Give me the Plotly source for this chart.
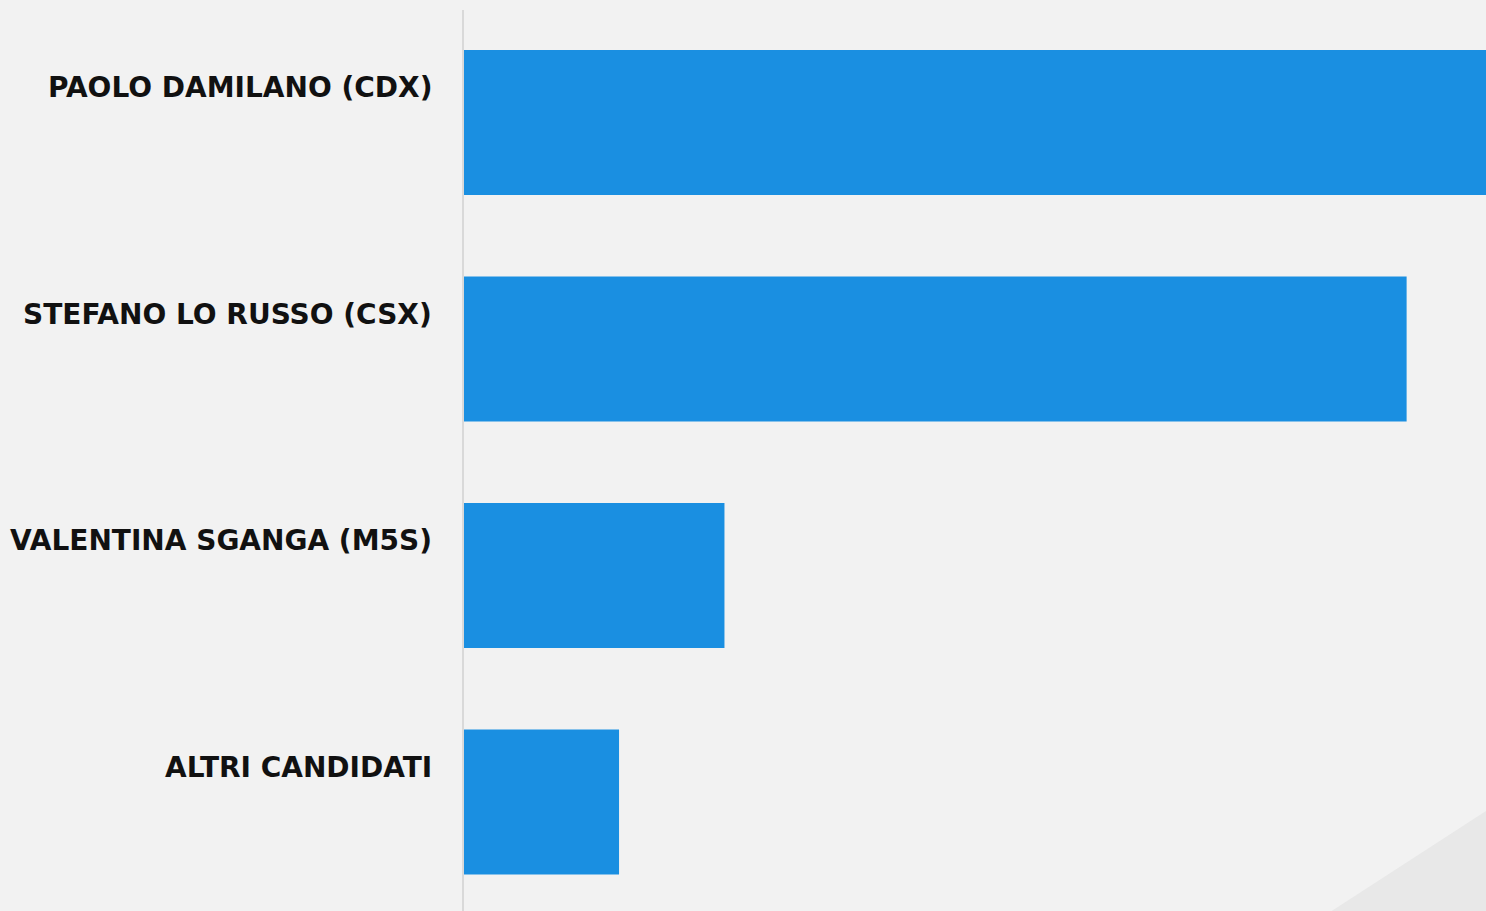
import plotly.graph_objects as go

candidates = ["PAOLO DAMILANO (CDX)", "STEFANO LO RUSSO (CSX)", "VALENTINA SGANGA (M5S)", "ALTRI CANDIDATI"]
values = [43.0, 38.0, 10.5, 6.25]

fig = go.Figure()
fig.add_trace(go.Bar(
    y=candidates, x=values, orientation="h",
    marker=dict(color="#1a8fe1", line=dict(width=0)),
    width=0.64, hoverinfo="x+y",
))

for c in candidates:
    fig.add_annotation(
        x=0, xref="paper", xanchor="right", xshift=-30,
        y=c, yref="y", yanchor="middle", yshift=35,
        text=c, showarrow=False,
        font=dict(family="DejaVu Sans", size=28, color="#111111", weight="bold"),
    )

fig.add_shape(
    type="path", xref="paper", yref="paper",
    path="M 0.849 0 L 1 0.111 L 1 0 Z",
    fillcolor="#e8e8e8", line=dict(width=0), layer="below",
)

fig.update_layout(
    width=1486, height=911,
    margin=dict(l=464, r=0, t=10, b=0),
    paper_bgcolor="#f2f2f2", plot_bgcolor="#f2f2f2",
    showlegend=False,
    xaxis=dict(range=[0, 41.2], visible=False, showgrid=False, zeroline=False),
    yaxis=dict(range=[3.481, -0.497], showticklabels=False, showgrid=False,
               zeroline=False, showline=True, linecolor="#d9d9d9", linewidth=2,
               ticks=""),
)

fig.write_html(
    "out.html",
    config={"displayModeBar": False},
    post_script="document.body.style.margin='0';document.body.style.overflow='hidden';",
)
